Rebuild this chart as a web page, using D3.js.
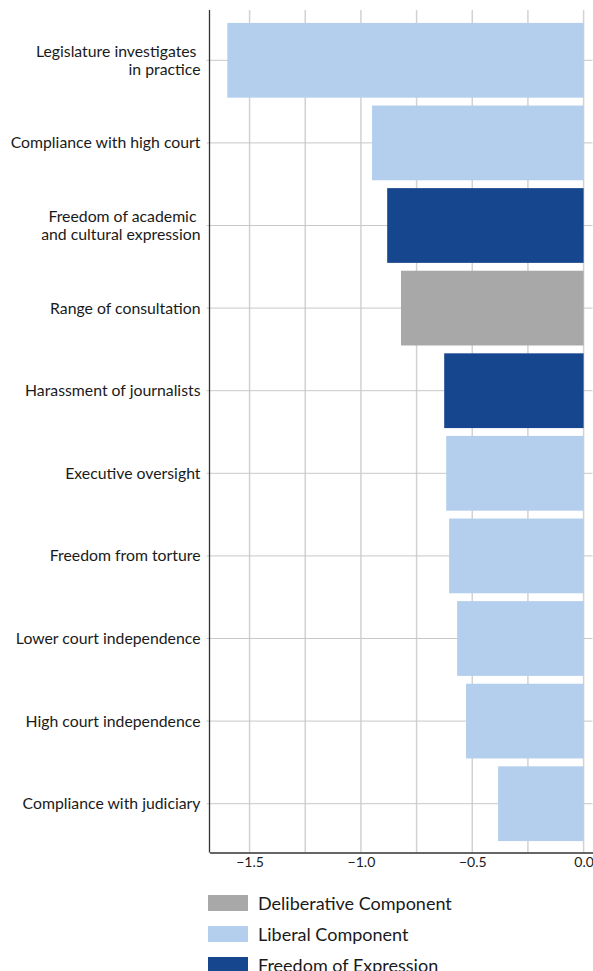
<!DOCTYPE html>
<html>
<head>
<meta charset="utf-8">
<script src="https://cdn.jsdelivr.net/npm/d3@7"></script>
<style>
  body { margin: 0; background: #fff; }
  text { font-family: Lato, "Open Sans", sans-serif; fill: #1a1a1a; }
</style>
</head>
<body>
<div id="chart"></div>
<script>
// categories top to bottom
var categories = ['Legislature investigates\u00a0\nin practice', 'Compliance with high court', 'Freedom of academic\u00a0\nand cultural expression',
  'Range of consultation', 'Harassment of journalists', 'Executive oversight', 'Freedom from torture',
  'Lower court independence', 'High court independence', 'Compliance with judiciary']
var values = [-1.60, -0.95, -0.882, -0.82, -0.626, -0.617, -0.604, -0.568, -0.528, -0.384]
var groups = ['Liberal', 'Liberal', 'Expression', 'Deliberative', 'Expression', 'Liberal', 'Liberal', 'Liberal', 'Liberal', 'Liberal']
var xTicks = [-1.5, -1.0, -0.5, 0.0]
var gridTicks = [-1.5, -1.25, -1.0, -0.75, -0.5, -0.25, 0.0]
var legendKeys = ['Deliberative', 'Liberal', 'Expression']
var legendLabels = ['Deliberative Component', 'Liberal Component', 'Freedom of Expression']

var colors = {Deliberative: '#a7a8a7', Liberal: '#b3cfed', Expression: '#16468d'}

var W = 593, H = 971
var plot = {left: 209.5, right: 592.5, top: 10, bottom: 852.5}

var svg = d3.select('#chart').append('svg').attr('width', W).attr('height', H)

var x = d3.scaleLinear().domain([-1.68, 0.04]).range([plot.left, plot.right])
var y = d3.scaleBand().domain(categories).range([19, 845]).paddingInner(0.095).paddingOuter(0.0475)

// vertical grid
svg.append('g').selectAll('line').data(gridTicks).join('line')
  .attr('x1', d => x(d)).attr('x2', d => x(d))
  .attr('y1', plot.top).attr('y2', plot.bottom)
  .attr('stroke', '#d2d2d2').attr('stroke-width', 1.5)

// horizontal grid at category centers
svg.append('g').selectAll('line').data(categories).join('line')
  .attr('x1', plot.left - 3).attr('x2', plot.right)
  .attr('y1', d => y(d) + y.bandwidth() / 2).attr('y2', d => y(d) + y.bandwidth() / 2)
  .attr('stroke', '#c8c8c8').attr('stroke-width', 1)

// bars
svg.append('g').selectAll('rect').data(categories).join('rect')
  .attr('x', (d, i) => x(values[i]))
  .attr('width', (d, i) => x(0) - x(values[i]))
  .attr('y', d => y(d))
  .attr('height', y.bandwidth())
  .attr('fill', (d, i) => colors[groups[i]])

// left axis line
svg.append('line').attr('x1', plot.left).attr('x2', plot.left).attr('y1', plot.top).attr('y2', plot.bottom)
  .attr('stroke', '#333').attr('stroke-width', 1.3)

// bottom axis
var xAxis = svg.append('g').attr('transform', 'translate(0,' + plot.bottom + ')')
  .call(d3.axisBottom(x).tickValues(xTicks).tickFormat(d3.format('.1f')).tickSize(0).tickPadding(5))
xAxis.select('.domain').attr('stroke', '#333').attr('stroke-width', 1.3)
xAxis.selectAll('text').style('font-size', '14px').style('font-family', 'Lato, sans-serif').attr('fill', '#1a1a1a')

// category labels
var labels = svg.append('g').selectAll('text').data(categories).join('text')
  .attr('x', plot.left - 9)
  .attr('y', d => y(d) + y.bandwidth() / 2)
  .attr('text-anchor', 'end')
  .style('font-size', '15.8px')
labels.each(function(d) {
  var lines = d.split('\n')
  var t = d3.select(this)
  lines.forEach(function(l, j) {
    t.append('tspan').attr('x', plot.left - 9)
      .attr('dy', j === 0 ? ((0.35 - (lines.length - 1) * 0.55) + 'em') : '1.1em')
      .text(l)
  })
})

// legend
var legend = svg.append('g').selectAll('g').data(legendKeys).join('g')
  .attr('transform', (d, i) => 'translate(208,' + (895 + i * 31) + ')')
legend.append('rect').attr('width', 40).attr('height', 16).attr('fill', d => colors[d])
legend.append('text').attr('x', 50).attr('y', 14.5).style('font-size', '18px')
  .text((d, i) => legendLabels[i])
</script>
</body>
</html>
